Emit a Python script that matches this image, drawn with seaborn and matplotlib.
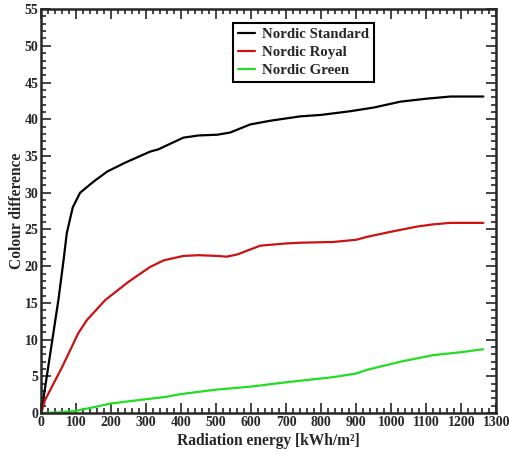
import pandas as pd
import matplotlib
matplotlib.use('Agg')
import matplotlib.pyplot as plt
import seaborn as sns
from matplotlib.ticker import MultipleLocator

# Values
standard_x = [0, 20, 49, 64, 73, 90, 111, 149, 189, 240, 311, 334, 406, 450, 503, 540, 597, 654, 740, 800, 883, 950, 1026, 1100, 1169, 1263]
standard_y = [0, 6.3, 15.4, 20.9, 24.5, 28, 30, 31.5, 32.9, 34.1, 35.6, 35.9, 37.5, 37.8, 37.9, 38.2, 39.3, 39.8, 40.4, 40.6, 41.1, 41.6, 42.4, 42.8, 43.1, 43.1]

royal_x = [0, 11, 60, 106, 131, 183, 250, 311, 350, 406, 450, 503, 530, 560, 626, 700, 740, 834, 900, 931, 1000, 1074, 1120, 1169, 1263]
royal_y = [0, 1.8, 6.3, 10.9, 12.7, 15.4, 17.9, 19.9, 20.8, 21.4, 21.5, 21.4, 21.3, 21.6, 22.8, 23.1, 23.2, 23.3, 23.6, 24.0, 24.7, 25.4, 25.7, 25.9, 25.9]

green_x = [0, 50, 97, 150, 197, 300, 354, 400, 500, 597, 700, 834, 900, 931, 1026, 1120, 1200, 1263]
green_y = [0, 0.1, 0.3, 0.8, 1.3, 1.9, 2.2, 2.6, 3.2, 3.6, 4.2, 4.9, 5.4, 5.9, 7.0, 7.9, 8.3, 8.7]

series_names = ['Nordic Standard', 'Nordic Royal', 'Nordic Green']
series_colors = ['#000000', '#cc1111', '#22dd22']

df = pd.concat([
    pd.DataFrame({'energy': standard_x, 'diff': standard_y, 'series': series_names[0]}),
    pd.DataFrame({'energy': royal_x, 'diff': royal_y, 'series': series_names[1]}),
    pd.DataFrame({'energy': green_x, 'diff': green_y, 'series': series_names[2]}),
], ignore_index=True)

sns.set_style('ticks')
plt.rcParams['font.family'] = ['Liberation Serif', 'DejaVu Serif']
plt.rcParams['font.weight'] = 'bold'

fig = plt.figure(figsize=(5.09, 4.55), dpi=100)
ax = fig.add_axes([0.081, 0.092, 0.894, 0.888])

sns.lineplot(data=df, x='energy', y='diff', hue='series', hue_order=series_names,
             palette=series_colors, linewidth=1.6, sort=False, estimator=None, ax=ax)

ax.set_xlim(0, 1300)
ax.set_ylim(0, 55)
ax.xaxis.set_major_locator(MultipleLocator(100))
ax.xaxis.set_minor_locator(MultipleLocator(20))
ax.yaxis.set_major_locator(MultipleLocator(5))
ax.yaxis.set_minor_locator(MultipleLocator(1))
ax.tick_params(which='both', direction='in', top=True, right=True, width=1.2, labelsize=10, pad=2)
ax.tick_params(which='major', length=7)
ax.tick_params(which='minor', length=3.5)
for lbl in ax.get_xticklabels() + ax.get_yticklabels():
    lbl.set_fontweight('bold')
for sp in ax.spines.values():
    sp.set_linewidth(1.8)

ax.set_xlabel('Radiation energy [kWh/m²]', fontsize=11.2, fontweight='bold', labelpad=3)
ax.set_ylabel('Colour difference', fontsize=11.2, fontweight='bold', labelpad=0)

leg = ax.legend(loc='upper left', bbox_to_anchor=(0.422, 0.966), borderaxespad=0,
                frameon=True, fancybox=False, edgecolor='black', handlelength=1.1,
                handletextpad=0.5, borderpad=0.35, labelspacing=0.3,
                prop={'weight': 'bold', 'size': 10.7})
leg.get_frame().set_linewidth(1.5)
leg.get_frame().set_alpha(1)

plt.savefig('out.png', dpi=100)
plt.close()
